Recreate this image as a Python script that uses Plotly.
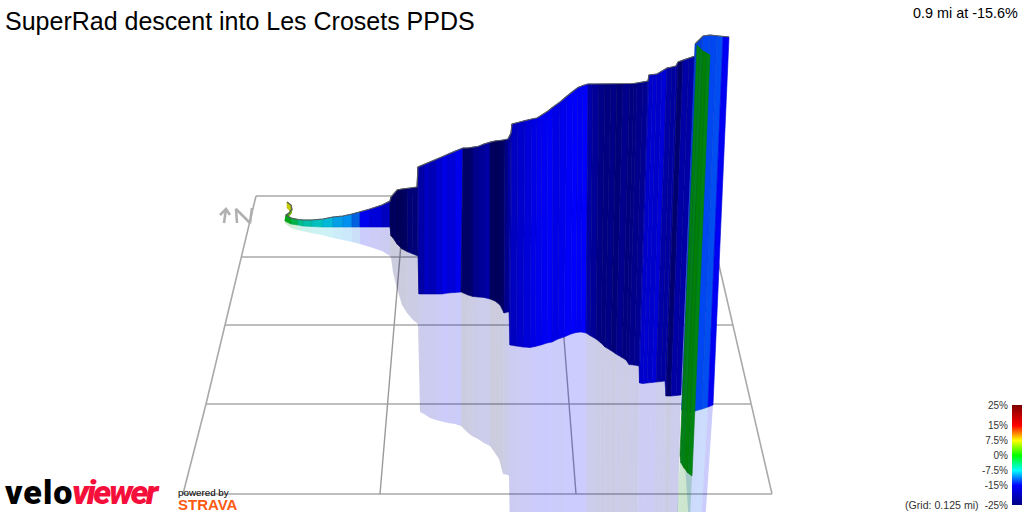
import re
import numpy as np
import plotly.graph_objects as go
from plotly.colors import sample_colorscale

TITLE = "SuperRad descent into Les Crosets PPDS"
READOUT = "0.9 mi at -15.6%"
GRID_NOTE = "(Grid: 0.125 mi)"

# Gradient legend: percent values and the colours they map to
SCALE_VALUES = [-25, -15, -7.5, 0, 7.5, 15, 25]
SCALE_COLORS = ["#000080", "#0000ff", "#00ffff", "#00ff00", "#ffff00", "#ff0000", "#800000"]
LEGEND_TICKS = [-25, -15, -7.5, 0, 7.5, 15, 25]
LEGEND_LABELS = ["-25%", "-15%", "-7.5%", "0%", "7.5%", "15%", "25%"]

# Projected ground grid
GRID_ROW_Y = [196, 257, 325, 404, 494]
GRID_ROW_LEFT = [256, 241, 225, 206, 183]
GRID_ROW_RIGHT = [703, 717, 733, 751, 772]
GRID_COL_TOP = [405, 553]
GRID_COL_BOTTOM = [380, 576]

# Route ribbon, one station per entry: crest of the wall, its foot, and the
# far edge of its ground shadow. The last two groups are the final bend.
CREST_X = [287, 291, 292, 289, 286, 291, 298, 303, 312, 323,
           333, 343, 352, 360, 370, 382, 390, 391, 393, 397,
           402, 407, 412, 417, 418, 424, 430, 436, 442, 448,
           455, 463, 468, 473, 478, 484, 490, 495, 500, 505,
           508, 511, 512, 518, 525, 532, 537, 542, 548, 553,
           560, 567, 573, 578, 583, 588, 593, 599, 605, 611,
           617, 623, 630, 634, 637, 643, 648, 649, 653, 657,
           662, 667, 672, 676, 678, 683, 689, 695,
           695, 703, 710, 717, 723, 729,
           697, 700, 703, 707, 710]
CREST_Y = [202, 205, 209, 213, 215, 218, 219.5, 220, 220, 219,
           217, 216, 214, 212, 209, 205, 201, 197, 195, 190,
           189, 188.5, 188, 187, 167, 164.5, 162, 159.5, 157, 154,
           151, 148, 148, 147, 146.5, 144, 142, 141, 140.5, 140,
           139, 133, 124, 122.5, 120.5, 119, 118, 115, 111, 107,
           102, 96, 91, 87.5, 85.5, 84, 84, 84, 84, 84,
           84, 84, 84, 83.5, 83, 82, 81, 75, 74.5, 74,
           71, 68, 67, 66, 62, 60, 58, 56,
           44, 36, 35, 36, 36.5, 37,
           45, 48, 51, 53, 55]
FOOT_X = [287, 290, 291, 288, 285, 291, 298, 303, 312, 323,
          333, 343, 352, 360, 370, 382, 390, 391, 393, 397,
          402, 408, 413, 418, 419, 424, 430, 436, 442, 448,
          455, 461, 468, 473, 478, 484, 490, 495, 500, 504,
          508, 509, 510, 516, 523, 530, 535, 541, 547, 552,
          558, 564, 571, 576, 581, 586, 590, 596, 601, 605,
          611, 616, 622, 626, 629, 634, 639, 639.5, 643, 647,
          652, 656, 661, 665, 666, 671, 676, 681,
          681.5, 689, 695, 702, 708, 713,
          680, 681, 684, 688, 692]
FOOT_Y = [208, 211, 214, 217, 221, 224, 225, 226, 226.5, 227,
          227, 227, 227, 227, 227, 227, 227, 236, 238, 244,
          249, 252, 254, 256, 294, 294, 294, 294, 294, 293,
          292.5, 292, 295, 296.5, 297, 297.5, 299, 301, 305, 313,
          312, 312, 345, 346, 347, 347.5, 346.5, 345, 343, 342,
          339, 337, 334, 332.5, 332, 333, 335.5, 339, 343, 347,
          350.5, 354, 357.5, 360, 364.5, 365, 366, 383, 383.5, 383,
          382.5, 382, 381.5, 381, 396, 396, 395.5, 395,
          410, 413, 411, 409, 407, 405,
          455, 463, 468, 473, 476]
SHADOW_X = [287, 290, 291, 288, 286, 291, 297, 302, 311, 322,
            333, 343, 352, 360, 370, 382, 390, 391, 393, 396,
            402, 407, 413, 418, 420, 424, 430, 436, 442, 448,
            455, 461, 467, 472, 478, 484, 490, 495, 499, 503,
            508, 509, 510, 516, 523, 530, 535, 541, 547, 552,
            558, 564, 570, 576, 581, 586, 590, 595, 600, 604,
            610, 615, 621, 625, 628, 633, 637, 638, 642, 645,
            650, 654, 659, 663, 664, 669, 674, 677,
            690, 690, 690, 695, 700, 704,
            676, 678, 682, 686, 689]
SHADOW_Y = [208, 211, 214, 217, 224, 228, 230, 231, 233, 235,
            238, 240, 242, 244, 247, 251, 256, 258, 272, 285,
            305, 313, 320, 324, 412, 414, 418, 420, 421.5, 423,
            424, 426, 432, 436, 439, 443, 446, 453, 459, 474,
            475, 476, 540, 540, 540, 540, 540, 540, 540, 540,
            540, 540, 540, 540, 540, 540, 540, 540, 540, 540,
            540, 540, 540, 540, 540, 540, 540, 540, 540, 540,
            540, 540, 540, 540, 540, 540, 540, 540,
            540, 540, 540, 540, 540, 540,
            540, 540, 540, 540, 540]
# Gradient (%) of the stretch leaving each station; None ends a ribbon section
GRADE = [7.5, 6, 4.5, 2, -1, -3, -5.5, -6.5, -7.5, -8.6,
         -9.8, -10.5, -11.8, -15, -18, -20, -25, -25, -25, -25,
         -25, -24, -24.5, -23, -22, -20, -20.5, -18.5, -17, -18,
         -16.5, -25, -25, -23.5, -23, -22, -25, -25, -25, -23,
         -22, -21, -20, -19, -18, -17, -16.5, -16, -15.5, -17,
         -16.5, -15.5, -15.2, -15.8, -15.2, -22, -23, -24.5, -25, -24.5,
         -25, -24, -25, -24.5, -24, -23.5, -21, -19, -18.5, -19,
         -18, -22, -22.5, -21.5, -25, -22, -22, None,
         -12.8, -12.8, -12.8, -12.6, -15, None,
         -1, -1.5, -0.5, -1, None]
# Light falling on each stretch, 1 being fully lit
LIGHT = [.8, .8, .75, .7, .65, .7, .75, .75, .75, .85,
         .9, .94, .88, .94, 1, 1, .75, .75, .75, .7,
         .75, .85, .9, .9, 1, 1, 1, 1, 1, 1,
         1, .8, .85, .95, 1, 1, .75, .72, .78, .9,
         1, 1, 1, 1, 1, 1, 1, 1, 1, 1,
         1, 1, 1, 1, 1, 1, 1, 1, 1, 1,
         .95, 1, 1, 1, 1, 1, 1, 1, 1, 1,
         1, 1, 1, 1, .88, 1, 1, 1,
         .85, .95, .95, .95, .95, 1,
         .5, .5, .5, .52, 1]

FONT = "Liberation Sans"


def grade_rgb(grade, light):
    """Colour of a gradient on the legend scale, dimmed by the light level."""
    position = (grade - SCALE_VALUES[0]) / (SCALE_VALUES[-1] - SCALE_VALUES[0])
    sampled = sample_colorscale(LEGEND_SCALE, [position])[0]
    r, g, b = (float(c) for c in re.findall(r"[\d.]+", sampled)[:3])
    return r * light, g * light, b * light


LEGEND_SCALE = [[(v - SCALE_VALUES[0]) / (SCALE_VALUES[-1] - SCALE_VALUES[0]), c]
                for v, c in zip(SCALE_VALUES, SCALE_COLORS)]

fig = go.Figure()

# Ground grid: rows, then the two outer edges
grid_x, grid_y = [], []
for y, left, right in zip(GRID_ROW_Y, GRID_ROW_LEFT, GRID_ROW_RIGHT):
    grid_x += [left, right, None]
    grid_y += [y, y, None]
for edge in (GRID_ROW_LEFT, GRID_ROW_RIGHT):
    grid_x += edge + [None]
    grid_y += GRID_ROW_Y + [None]
fig.add_trace(go.Scatter(x=grid_x, y=grid_y, mode="lines", hoverinfo="skip",
                         line=dict(color="#a9a9a9", width=1.6)))
col_x, col_y = [], []
for top, bottom in zip(GRID_COL_TOP, GRID_COL_BOTTOM):
    col_x += [top, bottom, None]
    col_y += [GRID_ROW_Y[0], GRID_ROW_Y[-1], None]
fig.add_trace(go.Scatter(x=col_x, y=col_y, mode="lines", hoverinfo="skip",
                         line=dict(color="#9a9a9a", width=1.4)))

# North marker
fig.add_trace(go.Scatter(
    x=[224, 226, None, 220, 226, 230, None, 237, 236, 250, 252],
    y=[223, 209, None, 215, 209, 215, None, 223, 209, 223, 208],
    mode="lines", hoverinfo="skip", line=dict(color="#b0b0b0", width=2.6)))

split = [i for i, v in enumerate(GRADE) if v is None]


def add_band(i, top_x, top_y, low_x, low_y, opacity):
    r, g, b = grade_rgb(GRADE[i], LIGHT[i])
    fill = f"rgba({r:.0f},{g:.0f},{b:.0f},{opacity})"
    # Walls keep a slightly darker seam between neighbouring stretches
    edge = (dict(width=0.6, color=f"rgb({r * .9:.0f},{g * .9:.0f},{b * .9:.0f})")
            if opacity == 1 else dict(width=0))
    fig.add_trace(go.Scatter(
        x=[top_x[i], top_x[i + 1], low_x[i + 1], low_x[i], top_x[i]],
        y=[top_y[i], top_y[i + 1], low_y[i + 1], low_y[i], top_y[i]],
        mode="lines", fill="toself", fillcolor=fill, line=edge, hoverinfo="skip"))


# Ground shadow
for i in range(len(GRADE) - 1):
    if GRADE[i] is not None:
        add_band(i, FOOT_X, FOOT_Y, SHADOW_X, SHADOW_Y, 0.2)

# Wall along the climb and the back of the bend, with its crest outline
for i in range(split[1]):
    if GRADE[i] is not None:
        add_band(i, CREST_X, CREST_Y, FOOT_X, FOOT_Y, 1)
outline_x = CREST_X[:split[0] + 1] + [None] + CREST_X[split[0] + 1:split[1] + 1]
outline_y = CREST_Y[:split[0] + 1] + [None] + CREST_Y[split[0] + 1:split[1] + 1]
fig.add_trace(go.Scatter(x=outline_x, y=outline_y, mode="lines", hoverinfo="skip",
                         line=dict(color="#55585c", width=1.2)))

# The near side of the bend passes in front of everything else
for i in range(split[1] + 1, len(GRADE) - 1):
    if GRADE[i] is not None:
        add_band(i, CREST_X, CREST_Y, FOOT_X, FOOT_Y, 1)

# Legend ramp on its own percent axis
levels = np.linspace(SCALE_VALUES[0], SCALE_VALUES[-1], 101)
fig.add_trace(go.Heatmap(x=[0], y=levels, z=[[v] for v in levels], xaxis="x2", yaxis="y2",
                         colorscale=LEGEND_SCALE, zmin=SCALE_VALUES[0], zmax=SCALE_VALUES[-1],
                         showscale=False, hoverinfo="skip"))


def label(x, y, text, size, color="#000000", anchor="left", **font):
    fig.add_annotation(x=x, y=y, xref="x", yref="y", text=text, showarrow=False,
                       xanchor=anchor, yanchor="middle", borderpad=0,
                       font=dict(family=font.pop("family", FONT), size=size, color=color, **font))


label(3.5, 21, TITLE, 25)
label(1019, 13, READOUT, 14.4, anchor="right")
label(980, 505, GRID_NOTE, 10.6, color="#333333", anchor="right")
# Logo words, with adjusted lettering to fit their widths
label(4, 491.5, '<span style="letter-spacing:1px">velo</span>', 34, family="Roboto", weight=900)
label(71, 491.5, '<span style="letter-spacing:-2.4px"><i>viewer</i></span>', 34,
      color="#f5103c", family="Roboto", weight=900)
label(177, 492, "powered by", 9.8)
label(177, 504, "STRAVA", 15, color="#fc5a12", weight="bold")

fig.update_layout(
    width=1024, height=512, margin=dict(l=0, r=0, t=0, b=0, autoexpand=False),
    paper_bgcolor="white", plot_bgcolor="white", showlegend=False,
    xaxis=dict(range=[0, 1024], domain=[0, 1], visible=False, fixedrange=True),
    yaxis=dict(range=[512, 0], domain=[0, 1], visible=False, fixedrange=True),
    xaxis2=dict(domain=[1012 / 1024, 1022 / 1024], anchor="y2", visible=False, fixedrange=True),
    yaxis2=dict(domain=[7 / 512, 107 / 512], anchor="x2", side="left",
                range=[SCALE_VALUES[0], SCALE_VALUES[-1]],
                tickvals=LEGEND_TICKS, ticktext=LEGEND_LABELS, ticks="", showgrid=False,
                zeroline=False, showline=False, ticklabelstandoff=3,
                tickfont=dict(family=FONT, size=10, color="#333333"), fixedrange=True),
)

fig.write_html("out.html", config=dict(displayModeBar=False))
